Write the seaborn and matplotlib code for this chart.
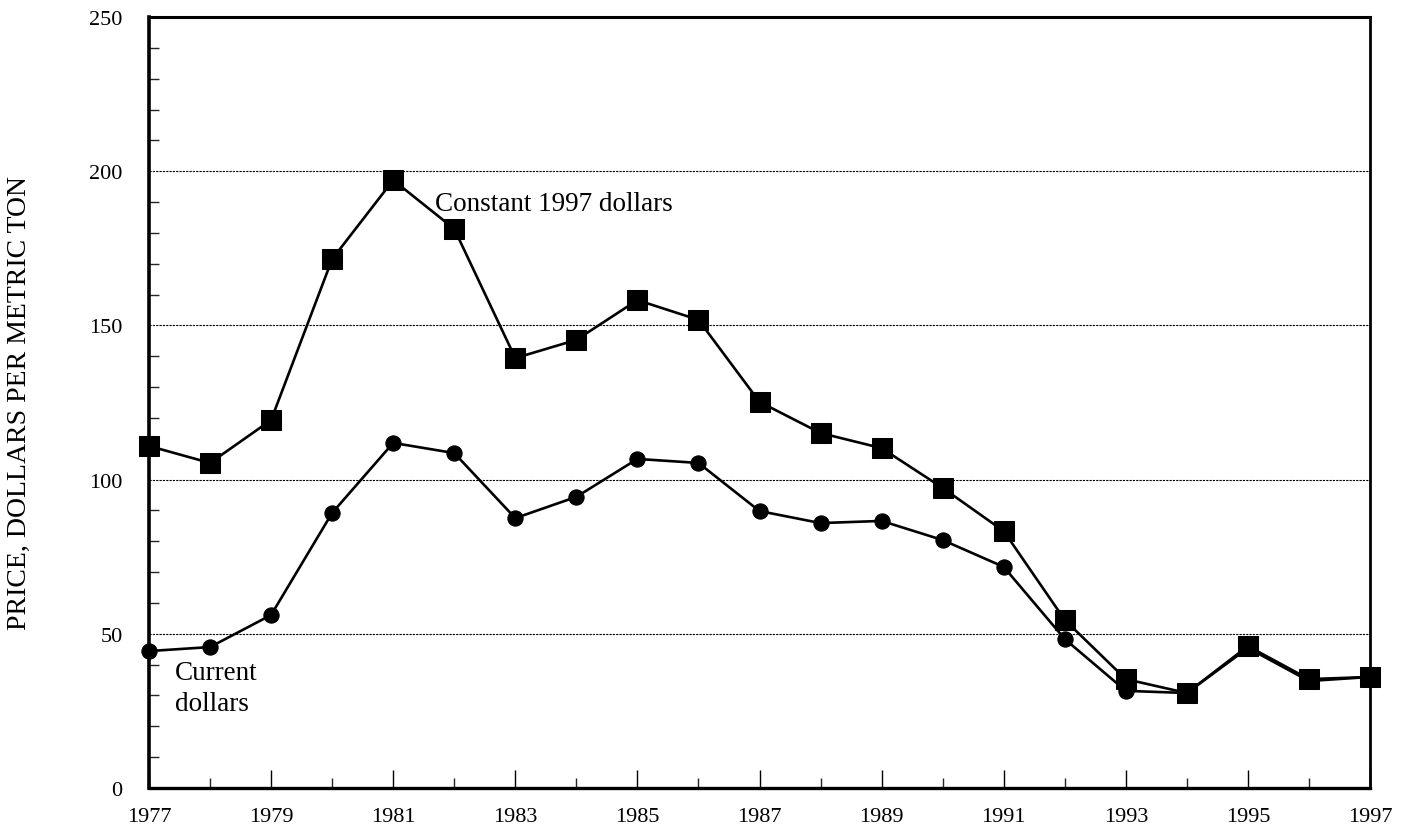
import matplotlib
matplotlib.use("Agg")
import matplotlib.pyplot as plt
import seaborn as sns
import pandas as pd
from matplotlib.ticker import MultipleLocator, FixedLocator

years = list(range(1977, 1998))
constant_1997 = [110.9, 105.4, 119.3, 171.5, 197.1, 181.3, 139.4, 145.3, 158.2, 151.8,
                 125.2, 115.1, 110.2, 97.3, 83.3, 54.5, 35.3, 30.8, 46.0, 35.3, 36.0]
current = [44.4, 45.7, 56.1, 89.2, 111.9, 108.6, 87.5, 94.4, 106.7, 105.4,
           89.8, 85.9, 86.6, 80.4, 71.7, 48.3, 31.5, 30.8, 45.4, 34.7, 36.0]
x_tick_years = years[::2]
gridlines = [50, 100, 150, 200]

sns.set_theme(style="white")
plt.rcParams['font.family'] = ['Liberation Serif', 'DejaVu Serif']

df_c = pd.DataFrame({"year": years, "price": constant_1997})
df_k = pd.DataFrame({"year": years, "price": current})

fig = plt.figure(figsize=(14.13, 8.28), dpi=100)
ax = fig.add_axes([149/1413, 1-789/828, (1370-149)/1413, (789-18)/828])

for g in gridlines:
    ax.axhline(g, color="black", linewidth=0.8, linestyle=(0, (2, 1)), zorder=1)

sns.lineplot(data=df_k, x="year", y="price", ax=ax, color="black", linewidth=1.9,
             marker="o", markersize=11, markeredgecolor="black", clip_on=False, zorder=3)
sns.lineplot(data=df_c, x="year", y="price", ax=ax, color="black", linewidth=1.9,
             marker="s", markersize=15, markeredgecolor="black", clip_on=False, zorder=4)

ax.set_xlim(1977, 1997)
ax.set_ylim(0, 250)
ax.xaxis.set_major_locator(FixedLocator(x_tick_years))
ax.set_xticklabels([str(y) for y in x_tick_years])
ax.xaxis.set_minor_locator(MultipleLocator(1))
ax.yaxis.set_major_locator(MultipleLocator(50))
ax.yaxis.set_minor_locator(MultipleLocator(10))
ax.tick_params(axis="x", which="major", direction="in", length=13, width=1, pad=13.5, labelsize=16, colors="black")
ax.tick_params(axis="x", which="minor", direction="in", length=7, width=1)
ax.tick_params(axis="y", which="major", direction="in", length=0, pad=19, labelsize=16, colors="black")
ax.tick_params(axis="y", which="minor", direction="in", length=7, width=1)
ax.tick_params(bottom=True, left=True, which="both")

for side, w in [("left", 2.6), ("bottom", 2.4), ("top", 2.2), ("right", 2.0)]:
    ax.spines[side].set_visible(True)
    ax.spines[side].set_linewidth(w)
    ax.spines[side].set_color("black")

ax.set_xlabel("")
ax.set_ylabel("PRICE, DOLLARS PER METRIC TON", fontsize=20, color="black", va="center")
ax.yaxis.set_label_coords(-0.1065, 0.5)

ax.text(1981.68, 189.5, "Constant 1997 dollars", fontsize=19.5, va="center", ha="left", color="black")
ax.text(1977.43, 41.5, "Current\ndollars", fontsize=19.5, va="top", ha="left", color="black", linespacing=1.3)

fig.savefig("out.png", dpi=100)
